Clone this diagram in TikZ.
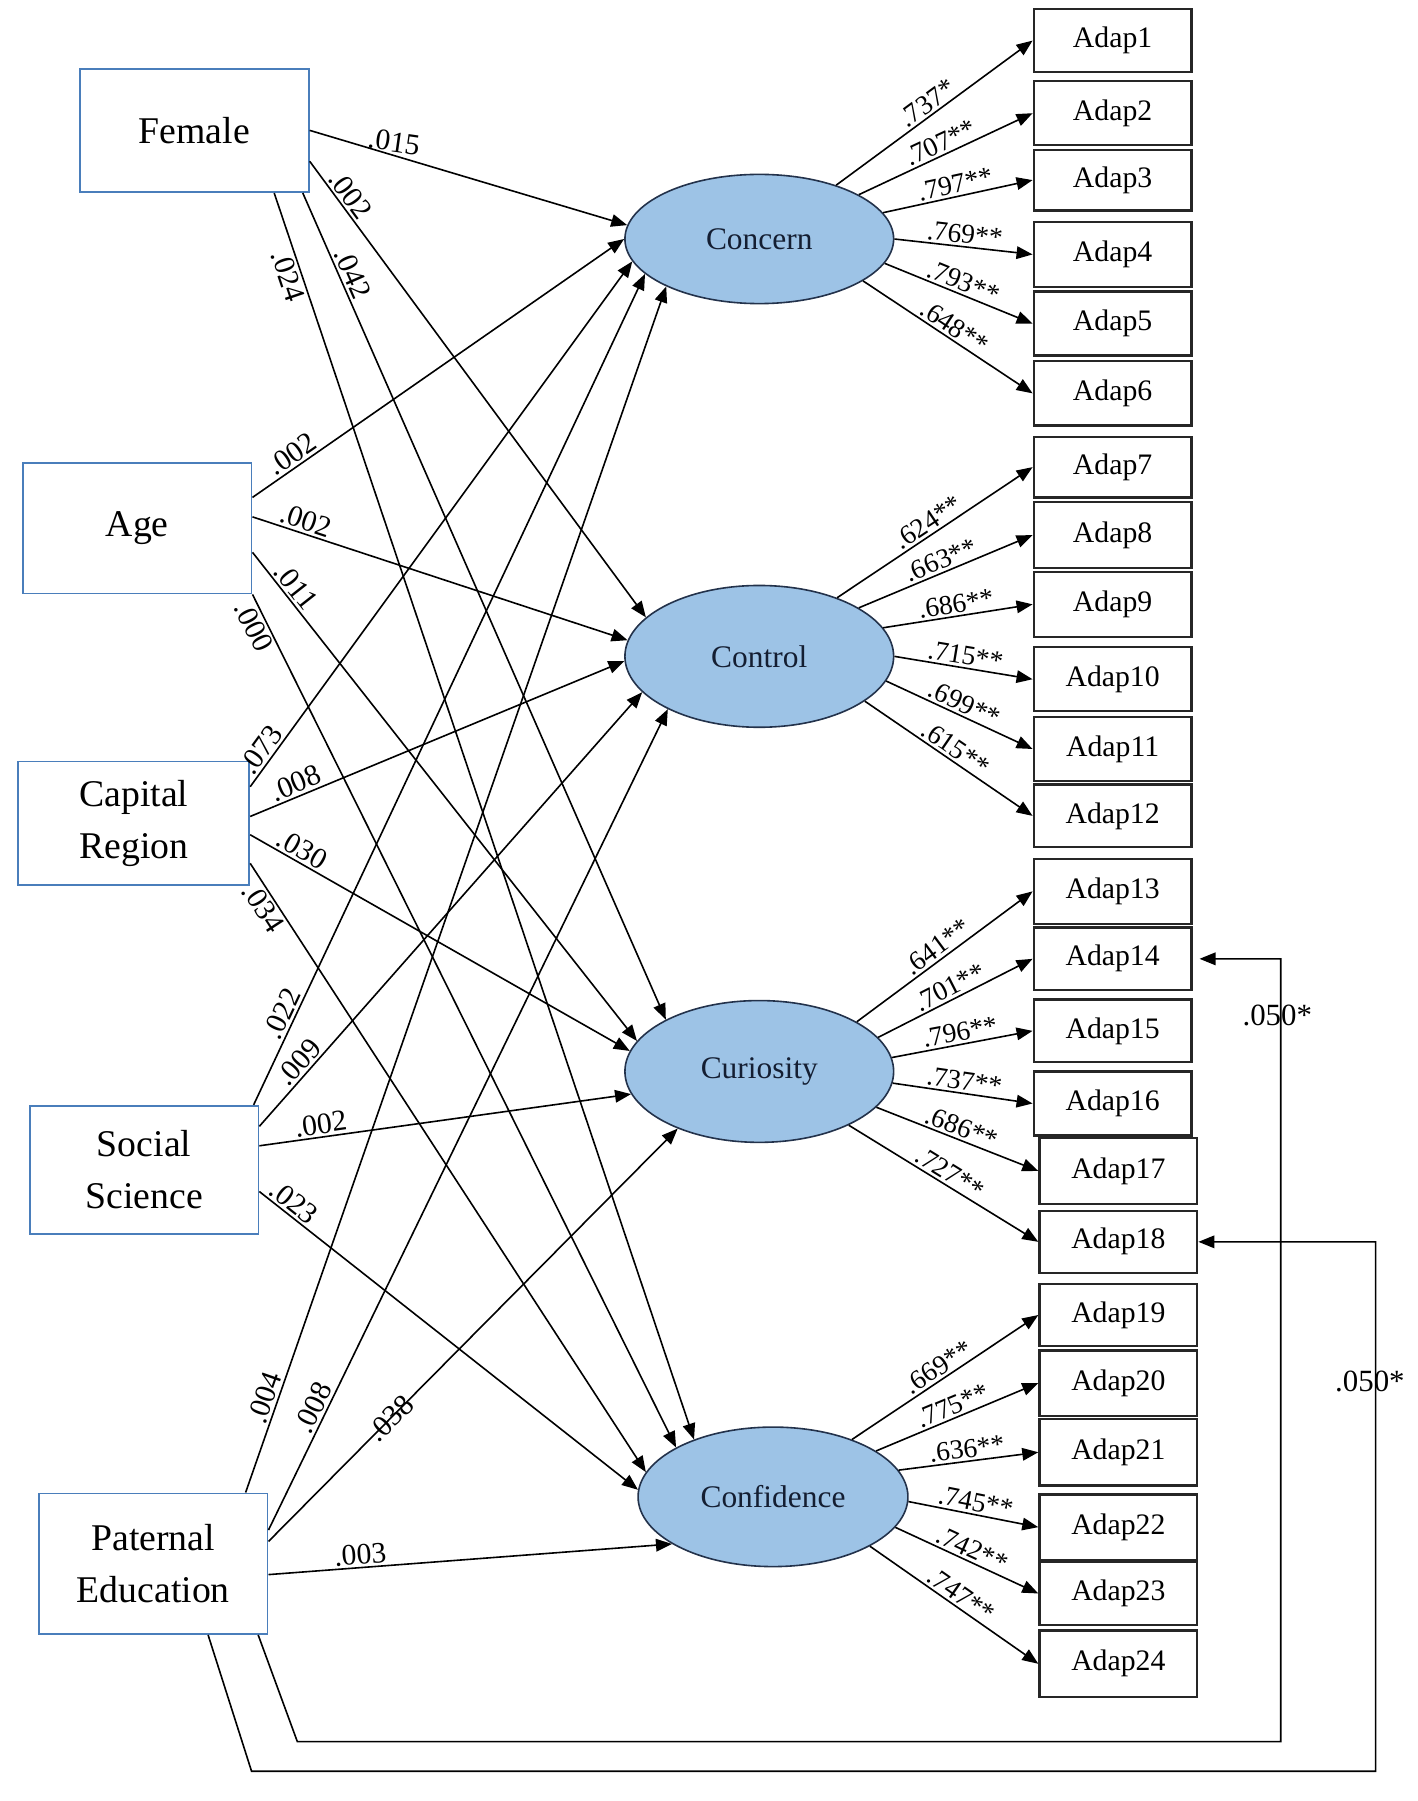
\documentclass[tikz,border=0pt]{standalone}
\usepackage{fontspec}
\setmainfont{Liberation Serif}
\usetikzlibrary{shapes.geometric,arrows.meta}
\definecolor{predblue}{RGB}{74,126,187}
\definecolor{latfill}{RGB}{157,195,230}
\definecolor{latline}{RGB}{35,50,75}
\definecolor{lattext}{RGB}{20,30,50}
\begin{document}
\begin{tikzpicture}[x=1pt,y=-1pt,
  predbox/.style={draw=predblue, line width=1.6pt, inner sep=0pt, align=center, font=\fontsize{33}{45}\selectfont},
  latent/.style={ellipse, draw=latline, line width=1.4pt, fill=latfill, inner sep=0pt, minimum width=235pt, font=\fontsize{27.5}{30}\selectfont, text=lattext},
  itembox/.style={draw=black!85, line width=2pt, inner sep=0pt, minimum width=138pt, font=\fontsize{26}{30}\selectfont},
  conn/.style={line width=1.4pt, -{Triangle[length=14pt,width=11pt]}},
  wlab/.style={font=\fontsize{26}{28}\selectfont, inner sep=2pt},
  llab/.style={font=\fontsize{24}{26}\selectfont, inner sep=2pt, sloped, above, pos=0.5}
]
\useasboundingbox (0,0) rectangle (1240,1575);

% predictors
\node[predbox, minimum width=200pt, minimum height=108pt] (fem) at (170,114) {Female};
\node[predbox, minimum width=200pt, minimum height=114pt] (age) at (120,462) {Age};
\node[predbox, minimum width=202pt, minimum height=108pt] (cap) at (117,720) {Capital\\Region};
\node[predbox, minimum width=200pt, minimum height=112pt] (soc) at (126,1023) {Social\\Science};
\node[predbox, minimum width=200pt, minimum height=123pt] (pat) at (134,1367.5) {Paternal\\Education};

% latent factors
\node[latent, minimum height=113pt] (conc) at (664,209) {Concern};
\node[latent, minimum height=124pt] (ctrl) at (664,574) {Control};
\node[latent, minimum height=124pt] (cur) at (664,937) {Curiosity};
\node[latent, minimum width=236pt, minimum height=122pt] (conf) at (676,1309) {Confidence};

% items
\foreach \i/\x/\y/\h in {1/973/35.5/55, 2/973/99/56, 3/973/157.5/53, 4/973/222.5/57,
  5/973/283/56, 6/973/344/56, 7/973/408.5/53, 8/973/468/58, 9/973/528.5/57,
  10/973/594/56, 11/973/655/56, 12/973/713.5/55, 13/973/779.5/57, 14/973/838.5/55,
  15/973/901.5/55, 16/973/965/56, 17/978/1024/58, 18/978/1086/54, 19/978/1150/54,
  20/978/1209.5/57, 21/978/1270/58, 22/978/1335.5/57, 23/978/1393.5/55, 24/978/1455/58}
  \node[itembox, minimum height=\h pt] (a\i) at (\x,\y) {Adap\i};

% loadings
\foreach \i/\ang/\v in {1/35/.737*, 2/24/.707**, 3/12/.797**, 4/0/.769**, 5/-11/.793**, 6/-22/.648**}
  \draw[conn] (conc.\ang) -- (a\i.west) node[llab] {\v};
\foreach \i/\ang/\v in {7/37/.624**, 8/26/.663**, 9/13/.686**, 10/0/.715**, 11/-11/.699**, 12/-23/.615**}
  \draw[conn] (ctrl.\ang) -- (a\i.west) node[llab] {\v};
\foreach \i/\ang/\v in {13/27/.641**, 14/16/.701**, 15/6/.796**, 16/-5/.737**, 17/-17/.686**, 18/-31/.727**}
  \draw[conn] (cur.\ang) -- (a\i.west) node[llab] {\v};
\foreach \i/\ang/\v in {19/36/.669**, 20/24/.775**, 21/12/.636**, 22/-2/.745**, 23/-14/.742**, 24/-27/.747**}
  \draw[conn] (conf.\ang) -- (a\i.west) node[llab] {\v};

% Female
\draw[conn] (fem.east) -- (conc.174) node[wlab, rotate=-8, anchor=south, pos=0.26] {.015};
\draw[conn] ([yshift=-27pt]fem.east) -- (ctrl.161) node[wlab, sloped, above, pos=0.09] {.002};
\draw[conn] ([xshift=-6pt]fem.south east) -- (cur.151) node[wlab, sloped, above, pos=0.104] {.042};
\draw[conn] ([xshift=-31pt]fem.south east) -- (conf.144) node[wlab, sloped, below, pos=0.063] {.024};

% Age
\draw[conn] ([yshift=27pt]age.east) -- (conc.180) node[wlab, sloped, above, pos=0.126] {.002};
\draw[conn] ([yshift=10pt]age.east) -- (ctrl.173) node[wlab, sloped, above, pos=0.131] {.002};
\draw[conn] ([yshift=-21pt]age.east) -- (cur.166) node[wlab, sloped, above, pos=0.087] {.011};
\draw[conn] (age.south east) -- (conf.153) node[wlab, sloped, below, pos=0.031] {.000};

% Capital Region
\draw[conn] ([yshift=32pt]cap.east) -- (conc.190) node[wlab, sloped, above, pos=0.056] {.073};
\draw[conn] ([yshift=6pt]cap.east) -- (ctrl.182) node[wlab, sloped, above, pos=0.135] {.008};
\draw[conn] ([yshift=-10pt]cap.east) -- (cur.171) node[wlab, sloped, above, pos=0.12] {.030};
\draw[conn] ([yshift=-35pt]cap.east) -- (conf.169) node[wlab, sloped, below, pos=0.061] {.034};

% Social Science
\draw[conn] ([xshift=-5pt]soc.north east) -- (conc.197) node[wlab, sloped, above, pos=0.103] {.022};
\draw[conn] ([yshift=38pt]soc.east) -- (ctrl.197) node[wlab, sloped, above, pos=0.128] {.009};
\draw[conn] ([yshift=21pt]soc.east) -- (cur.190) node[wlab, sloped, above, pos=0.17] {.002};
\draw[conn] ([yshift=-19pt]soc.east) -- (conf.177) node[wlab, sloped, above, pos=0.07] {.023};

% Paternal Education
\draw[conn] ([xshift=-20pt]pat.north east) -- (conc.207) node[wlab, sloped, above, pos=0.075] {.004};
\draw[conn] ([yshift=29.5pt]pat.east) -- (ctrl.210) node[wlab, sloped, above, pos=0.142] {.008};
\draw[conn] ([yshift=19.5pt]pat.east) -- (cur.215) node[wlab, sloped, pos=0.298] {.038};
\draw[conn] ([yshift=-9.5pt]pat.east) -- (conf.205) node[wlab, sloped, above, pos=0.23] {.003};

% direct paths to items
\coordinate (l1a) at (260,1523);
\coordinate (l1b) at (1120,1523);
\coordinate (l2a) at (220,1549);
\coordinate (l2b) at (1203,1549);
\draw[conn, shorten >=6pt] ([xshift=-9pt]pat.south east) -- (l1a) -- (l1b) |- (a14.east);
\draw[conn] ([xshift=48pt]pat.south) -- (l2a) -- (l2b) |- (a18.east);
\node[wlab, font=\fontsize{27}{29}\selectfont] (lab14) at (1117,888) {.050*};
\node[wlab, font=\fontsize{27}{29}\selectfont] (lab18) at (1198,1208) {.050*};
\end{tikzpicture}
\end{document}
